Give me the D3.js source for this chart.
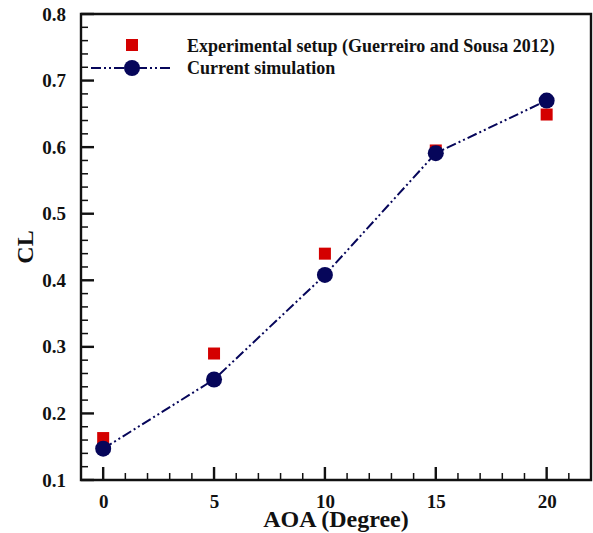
<!DOCTYPE html>
<html lang="en">
<head>
    <meta charset="UTF-8">
    <title>CL vs AOA</title>
    <script src="https://d3js.org/d3.v7.min.js"></script>
    <style>
        body { margin: 0; background: #fff; }
        text { font-family: "Liberation Serif", "Times New Roman", serif; font-weight: bold; }
    </style>
</head>
<body>
    <script>
        var aoa = [0, 5, 10, 15, 20];
        var clExperiment = [0.163, 0.290, 0.440, 0.595, 0.649];
        var clSimulation = [0.147, 0.251, 0.408, 0.591, 0.670];
        var xTicks = [0, 5, 10, 15, 20];
        var yTicks = [0.1, 0.2, 0.3, 0.4, 0.5, 0.6, 0.7, 0.8];
        var legendLabels = ["Experimental setup (Guerreiro and Sousa 2012)", "Current simulation"];

        var w = 593;
        var h = 533;
        var margin = { top: 14, right: 2, bottom: 53, left: 81 };

        var svg = d3.select("body")
            .append("svg")
            .attr("width", w)
            .attr("height", h);

        var x = d3.scaleLinear().domain([-1, 22]).range([margin.left, w - margin.right]);
        var y = d3.scaleLinear().domain([0.1, 0.8]).range([h - margin.bottom, margin.top]);

        var x0 = x(-1), y0 = y(0.1);

        // frame
        svg.append("path")
            .attr("d", "M" + x0 + "," + y(0.8) + "H" + x(22) + "V" + y0 + "H" + x0 + "Z")
            .style("fill", "none")
            .attr("stroke", "#111").attr("stroke-width", 2.4);

        // tick values: majors from the lists, minors in between
        var minorX = d3.range(-1, 23, 1).filter(d => xTicks.indexOf(d) < 0 && d > -1 && d < 22);
        var minorY = d3.range(0.1, 0.801, 0.02).map(d => +d.toFixed(2))
            .filter(d => Math.abs(d * 10 - Math.round(d * 10)) > 1e-6);

        // inward ticks as small filled bars
        var tickG = svg.append("g").attr("fill", "#111");
        tickG.selectAll(".xmin").data(minorX).enter().append("rect").attr("class", "xmin")
            .attr("x", d => x(d) - 0.75).attr("y", y0 - 7).attr("width", 1.5).attr("height", 7);
        tickG.selectAll(".xmaj").data(xTicks).enter().append("rect").attr("class", "xmaj")
            .attr("x", d => x(d) - 1.2).attr("y", y0 - 13).attr("width", 2.4).attr("height", 13);
        tickG.selectAll(".ymin").data(minorY).enter().append("rect").attr("class", "ymin")
            .attr("x", x0).attr("y", d => y(d) - 0.75).attr("width", 7).attr("height", 1.5);
        tickG.selectAll(".ymaj").data(yTicks).enter().append("rect").attr("class", "ymaj")
            .attr("x", x0).attr("y", d => y(d) - 1.2).attr("width", 13).attr("height", 2.4);

        // axis labels through d3 axes
        var xAxis = d3.axisBottom(x).tickValues(xTicks).tickSize(0).tickPadding(15).tickFormat(d3.format("d"));
        var yAxis = d3.axisLeft(y).tickValues(yTicks).tickSize(0).tickPadding(15).tickFormat(d3.format(".1f"));

        function styleAxis(g) {
            g.select(".domain").remove();
            g.selectAll(".tick line").remove();
            g.selectAll(".tick text").attr("fill", "#111").style("font-size", "19px");
        }

        svg.append("g").attr("transform", "translate(0," + y0 + ")").call(xAxis).call(styleAxis);
        svg.append("g").attr("transform", "translate(" + x0 + ",0)").call(yAxis).call(styleAxis);

        // axis titles
        svg.append("text")
            .attr("x", 336).attr("y", 527)
            .attr("text-anchor", "middle").style("font-size", "24px").attr("fill", "#111")
            .text("AOA (Degree)");
        svg.append("text")
            .attr("transform", "translate(33,247) rotate(-90)")
            .attr("text-anchor", "middle").style("font-size", "24px").attr("fill", "#111")
            .text("CL");

        var navy = "#06065a";
        var red = "#d40000";
        var dashPattern = "10,3,2,3,2,3";

        var line = d3.line().x((d, i) => x(aoa[i])).y(d => y(d));
        svg.append("path")
            .datum(clSimulation)
            .attr("d", line)
            .style("fill", "none")
            .attr("stroke", navy)
            .attr("stroke-width", 2)
            .attr("stroke-dasharray", dashPattern);

        svg.selectAll("rect.exp")
            .data(clExperiment)
            .enter().append("rect")
            .attr("class", "exp")
            .attr("x", (d, i) => x(aoa[i]) - 6)
            .attr("y", d => y(d) - 6)
            .attr("width", 12).attr("height", 12)
            .attr("fill", red);

        svg.selectAll("circle.sim")
            .data(clSimulation)
            .enter().append("circle")
            .attr("class", "sim")
            .attr("cx", (d, i) => x(aoa[i]))
            .attr("cy", d => y(d))
            .attr("r", 8)
            .attr("fill", navy);

        // legend
        var legend = svg.append("g");
        legend.append("rect").attr("x", 126).attr("y", 39).attr("width", 12).attr("height", 12).attr("fill", red);
        legend.append("line").attr("x1", 91).attr("x2", 172).attr("y1", 68).attr("y2", 68)
            .attr("stroke", navy).attr("stroke-width", 2).attr("stroke-dasharray", dashPattern);
        legend.append("circle").attr("cx", 132).attr("cy", 68).attr("r", 8).attr("fill", navy);
        legend.selectAll("text")
            .data(legendLabels)
            .enter().append("text")
            .attr("x", 187)
            .attr("y", (d, i) => 52 + i * 22)
            .style("font-size", "18px")
            .attr("fill", "#111")
            .text(d => d);
    </script>
</body>
</html>
